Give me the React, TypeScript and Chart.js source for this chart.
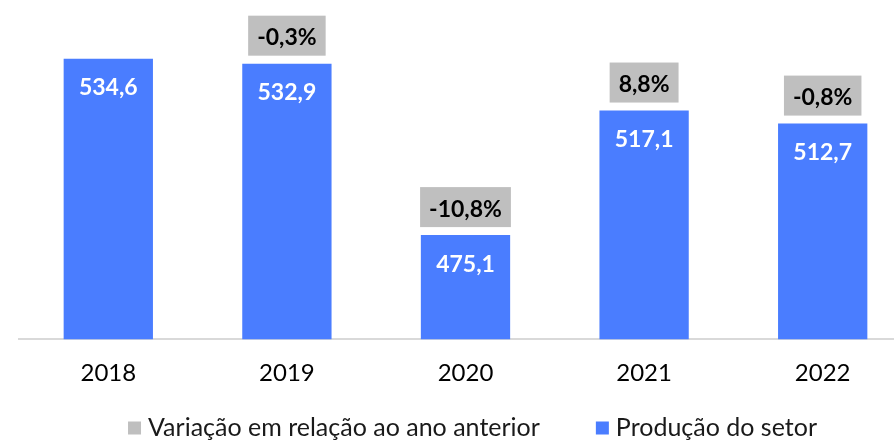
import React, { useEffect, useRef } from "react";
import { Chart, registerables } from "chart.js";

Chart.register(...registerables);

const categories = ["2018", "2019", "2020", "2021", "2022"];
const production = [534.6, 532.9, 475.1, 517.1, 512.7];
const variation: (number | null)[] = [null, -0.3, -10.8, 8.8, -0.8];
const seriesLabels = ["Variação em relação ao ano anterior", "Produção do setor"];

const BLUE = "#4a7dff";
const GREY = "#bfbfbf";
const seriesColors = [GREY, BLUE];

const fmt = (v: number) => v.toFixed(1).replace(".", ",");

const labelPlugin = {
  id: "barLabels",
  afterDatasetsDraw(chart: any) {
    const ctx = chart.ctx;
    const meta = chart.getDatasetMeta(1);
    meta.data.forEach((bar: any, i: number) => {
      const { x, y } = bar.getProps(["x", "y"], true);
      ctx.save();
      ctx.font = "bold 23px Lato";
      ctx.textAlign = "center";
      ctx.textBaseline = "middle";
      ctx.fillStyle = "#ffffff";
      ctx.fillText(fmt(production[i]), x, y + 29);
      const v = variation[i];
      if (v !== null && v !== undefined) {
        const t = fmt(v) + "%";
        const w = ctx.measureText(t).width + 18;
        const h = 40;
        const bottom = y - 8;
        ctx.fillStyle = GREY;
        ctx.fillRect(x - w / 2, bottom - h, w, h);
        ctx.fillStyle = "#000000";
        ctx.fillText(t, x, bottom - h / 2 + 2);
      }
      ctx.restore();
    });
  },
};

const legendPlugin = {
  id: "bottomLegend",
  afterDraw(chart: any) {
    const ctx = chart.ctx;
    const area = chart.chartArea;
    ctx.save();
    ctx.font = "25px Lato";
    ctx.textBaseline = "middle";
    ctx.textAlign = "left";
    const box = 13;
    const gap = 7;
    const spacing = 56;
    const widths = seriesLabels.map((t) => box + gap + ctx.measureText(t).width);
    const total = widths.reduce((a, b) => a + b, 0) + spacing * (widths.length - 1);
    let x = (area.left + area.right) / 2 + 7 - total / 2;
    const cy = 428;
    seriesLabels.forEach((t, i) => {
      ctx.fillStyle = seriesColors[i];
      ctx.fillRect(x, cy - box / 2, box, box);
      ctx.fillStyle = "#1a1a1a";
      ctx.fillText(t, x + box + gap, cy);
      x += widths[i] + spacing;
    });
    ctx.restore();
  },
};

export default function App() {
  const ref = useRef<HTMLCanvasElement | null>(null);
  useEffect(() => {
    if (!ref.current) return;
    Chart.defaults.font.family = "Lato";
    const chart = new Chart(ref.current, {
      type: "bar",
      data: {
        labels: categories,
        datasets: [
          {
            type: "line",
            label: seriesLabels[0],
            data: variation,
            yAxisID: "y2",
            showLine: false,
            pointRadius: 0,
            backgroundColor: GREY,
            borderColor: GREY,
            borderWidth: 0,
          } as any,
          {
            type: "bar",
            label: seriesLabels[1],
            data: production,
            backgroundColor: BLUE,
            barPercentage: 1,
            categoryPercentage: 0.5,
          },
        ],
      },
      options: {
        animation: false,
        responsive: true,
        maintainAspectRatio: false,
        layout: { padding: { left: 19, right: 28, top: 10, bottom: 40 } },
        plugins: {
          tooltip: { enabled: false },
          legend: { display: false },
        },
        scales: {
          x: {
            grid: { display: false },
            border: { display: true, color: "#d9d9d9", width: 2 },
            ticks: { color: "#000", font: { size: 24, family: "Lato" }, padding: 12 },
          },
          y: { display: false, min: 440, max: 551 },
          y2: { display: false, min: -20, max: 20 },
        },
      },
      plugins: [labelPlugin, legendPlugin],
    });
    return () => chart.destroy();
  }, []);
  return (
    <div style={{ position: "absolute", left: 0, top: 0, width: 894, height: 440, overflow: "hidden", background: "#fff" }}>
      <div style={{ position: "relative", width: 940, height: 440 }}>
        <canvas ref={ref} />
      </div>
    </div>
  );
}
